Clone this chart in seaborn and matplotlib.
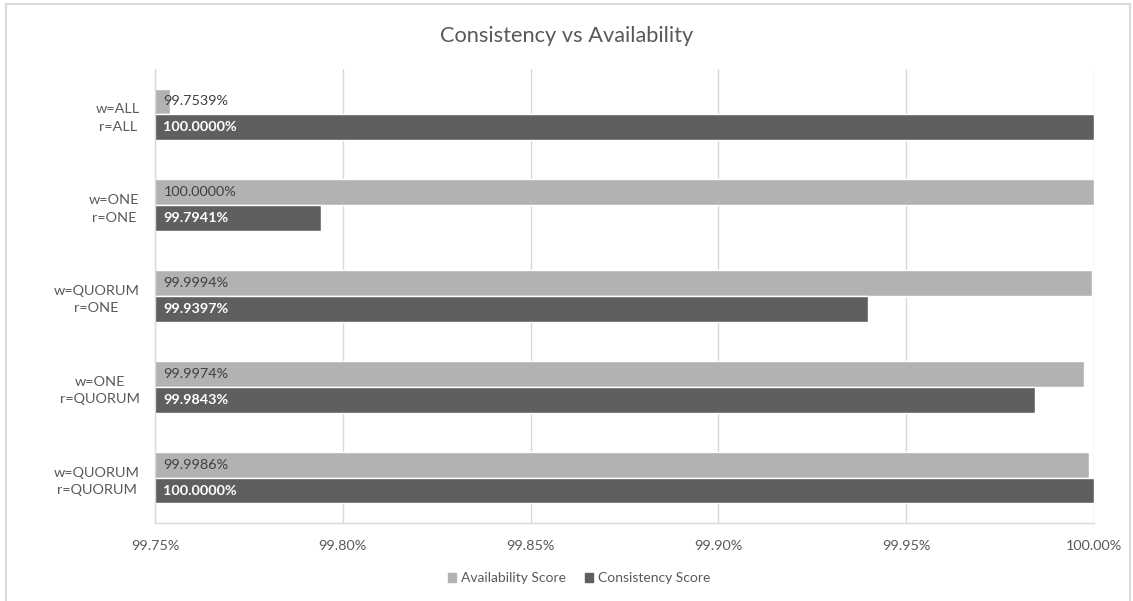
import matplotlib
matplotlib.use("Agg")
import matplotlib.pyplot as plt
import matplotlib.patches as mpatches
import seaborn as sns
import pandas as pd

categories = ["w=ALL\nr=ALL", "w=ONE\nr=ONE", "w=QUORUM\nr=ONE", "w=ONE\nr=QUORUM", "w=QUORUM\nr=QUORUM"]
availability = [99.7539, 100.0000, 99.9994, 99.9974, 99.9986]
consistency = [100.0000, 99.7941, 99.9397, 99.9843, 100.0000]
series = ["Availability Score", "Consistency Score"]
xticks = [99.75, 99.80, 99.85, 99.90, 99.95, 100.00]

df = pd.DataFrame({
    "config": categories * 2,
    "score": availability + consistency,
    "series": [series[0]] * len(categories) + [series[1]] * len(categories),
})

sns.set_theme(style="white")
plt.rcParams["font.family"] = ["Lato", "DejaVu Sans"]

light = "#b2b2b2"
dark = "#5f5f5f"
txt = "#595959"

fig = plt.figure(figsize=(11.33, 6.01), dpi=100)
ax = fig.add_axes([155 / 1133, 1 - 523 / 601, (1094 - 155) / 1133, (523 - 69) / 601])

sns.barplot(data=df, y="config", x="score", hue="series", orient="h",
            palette=[light, dark], width=0.57, ax=ax, legend=False,
            order=categories, hue_order=series, errorbar=None, saturation=1)

ax.set_xlim(99.75, 100.0)
ax.set_ylim(4.5, -0.5)
ax.set_xticks(xticks)
ax.set_xticklabels([f"{t:.2f}%" for t in xticks], color=txt, fontsize=10.4)
ax.set_yticks(range(len(categories)))
ax.set_yticklabels(categories, color=txt, fontsize=10.4, multialignment="center",
                   linespacing=1.55)
ax.tick_params(axis="x", length=0, pad=12)
ax.tick_params(axis="y", length=0, pad=11)
ax.set_xlabel("")
ax.set_ylabel("")
ax.grid(axis="x", color="#d9d9d9", linewidth=1)
ax.set_axisbelow(True)
for s in ["top", "right"]:
    ax.spines[s].set_visible(False)
for s in ["left", "bottom"]:
    ax.spines[s].set_color("#d9d9d9")
    ax.spines[s].set_linewidth(1)

# value labels inside bars
n = len(categories)
for i, p in enumerate(ax.patches[:2 * n]):
    val = df["score"].iloc[i]
    is_dark = i >= n
    y = p.get_y() + p.get_height() / 2
    ax.annotate(f"{val:.4f}%", xy=(99.75, y), xytext=(6, 0), textcoords="offset points",
                va="center", ha="left", fontsize=10.4,
                color="white" if is_dark else "#404040",
                fontweight="bold" if is_dark else "normal")

fig.text(0.5, 1 - 36 / 601, "Consistency vs Availability", ha="center", va="center",
         fontsize=15.7, color=txt)

handles = [mpatches.Patch(color=light, label=series[0]), mpatches.Patch(color=dark, label=series[1])]
fig.legend(handles=handles, loc="center", bbox_to_anchor=(579 / 1133, 1 - 578 / 601), ncol=2,
           frameon=False, fontsize=10, handlelength=0.6, handleheight=0.6, handletextpad=0.3,
           columnspacing=1.4, labelcolor=txt)

fig.patches.append(mpatches.Rectangle((6 / 1133, -0.01), (1130 - 6) / 1133, 1.01 - 4 / 601,
                                      transform=fig.transFigure, fill=False,
                                      edgecolor="#d9d9d9", linewidth=1.5))

fig.savefig("out.png", dpi=100)
